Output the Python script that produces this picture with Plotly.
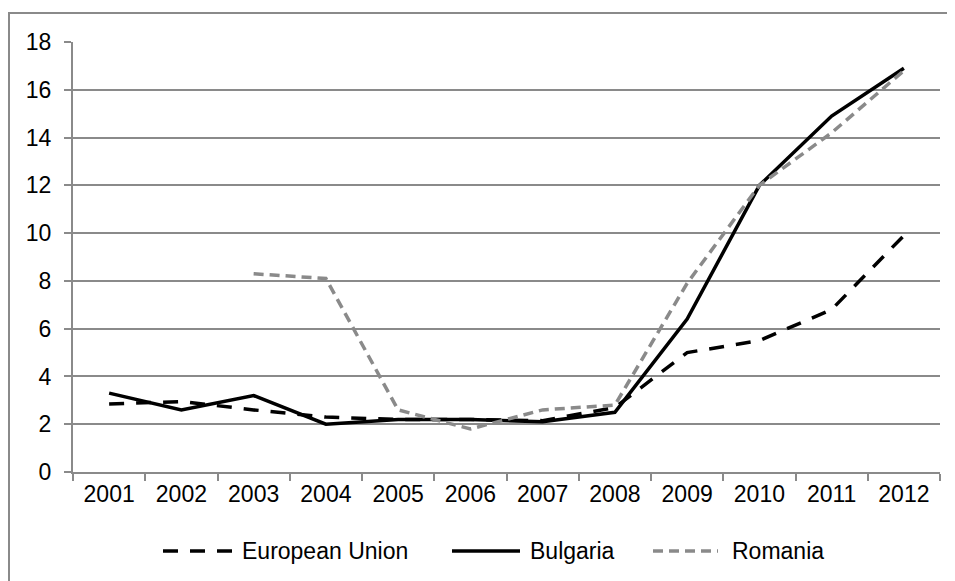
import plotly.graph_objects as go

years = ["2001", "2002", "2003", "2004", "2005", "2006", "2007", "2008", "2009", "2010", "2011", "2012"]
eu = [2.85, 2.95, 2.6, 2.3, 2.2, 2.2, 2.15, 2.7, 5.0, 5.5, 6.8, 9.9]
bulgaria = [3.3, 2.6, 3.2, 2.0, 2.2, 2.2, 2.1, 2.5, 6.4, 12.0, 14.9, 16.9]
romania = [None, None, 8.3, 8.1, 2.6, 1.8, 2.6, 2.8, 7.9, 12.0, 14.2, 16.8]
y_ticks = [0, 2, 4, 6, 8, 10, 12, 14, 16, 18]
series_names = ["European Union", "Bulgaria", "Romania"]

FONT = "Liberation Sans, Arial, sans-serif"
GRID = "#8a8a8a"
FS = 23

# the page body has an 8px margin; figure sized to fill the rest of the window
OFF = 8
W, H = 955 - OFF, 581 - OFF
# plot area in page pixels: x 73..940, y 42..472
L, R, T, B = 73, 940, 42, 472
def px(x):
    return (x - L) / (R - L)
def py(y):
    return (B - y) / (B - T)

styles = [
    dict(color="black", width=3.5, dash="15px,12px"),
    dict(color="black", width=3.5),
    dict(color="#8a8a8a", width=3.5, dash="10px,6px"),
]

fig = go.Figure()
for name, vals, st in zip(series_names, [eu, bulgaria, romania], styles):
    fig.add_trace(go.Scatter(x=years, y=vals, name=name, mode="lines", line=st, showlegend=False))

# custom legend (sample lines + labels) to mimic the Excel legend
legend_samples = [(163, 232), (452, 520), (653, 718)]
legend_text_x = [240, 528, 730]
ly = 551
shapes = [dict(type="rect", xref="paper", yref="paper",
               x0=px(9), x1=px(951), y0=py(600), y1=py(13),
               line=dict(color=GRID, width=2), fillcolor="rgba(0,0,0,0)", layer="below")]
annotations = []
for (x0, x1), tx, name, st in zip(legend_samples, legend_text_x, series_names, styles):
    shapes.append(dict(type="line", xref="paper", yref="paper", x0=px(x0), x1=px(x1),
                       y0=py(ly), y1=py(ly), line=st))
    annotations.append(dict(xref="paper", yref="paper", x=px(tx), y=py(ly), text=name,
                            showarrow=False, xanchor="left", yanchor="middle",
                            font=dict(family=FONT, size=FS, color="black")))

fig.update_layout(
    width=W, height=H,
    margin=dict(l=L - OFF, r=955 - R, t=T - OFF, b=581 - B),
    paper_bgcolor="white", plot_bgcolor="white",
    font=dict(family=FONT, size=FS, color="black"),
    showlegend=False,
    xaxis=dict(type="category", showgrid=False, showline=True, linecolor=GRID, linewidth=2,
               ticks="outside", ticklen=7, tickcolor=GRID, tickwidth=2, tickson="boundaries",
               range=[-0.5, 11.5], fixedrange=True),
    yaxis=dict(range=[0, 18], tickvals=y_ticks, showgrid=True, gridcolor=GRID, gridwidth=2,
               showline=True, linecolor=GRID, linewidth=2, ticks="outside", ticklen=7,
               tickcolor=GRID, tickwidth=2, zeroline=False, ticklabelstandoff=8),
    shapes=shapes,
    annotations=annotations,
)

fig.write_html("out.html")
